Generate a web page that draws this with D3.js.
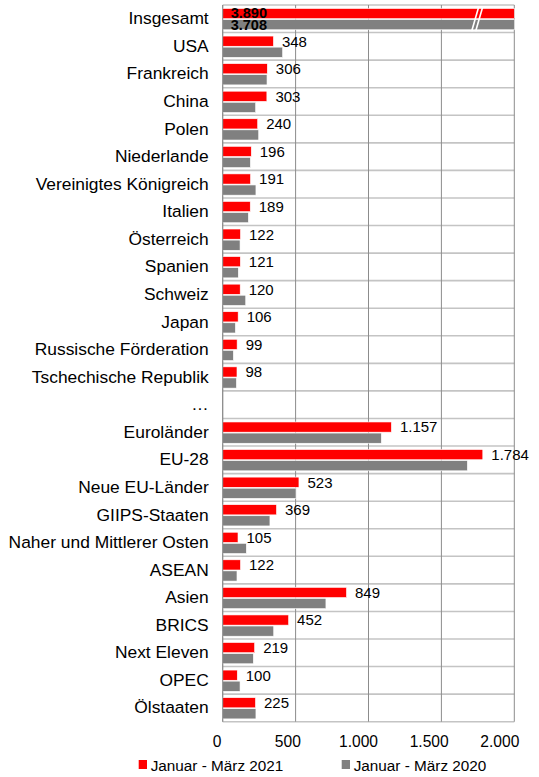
<!DOCTYPE html>
<html>
<head>
<meta charset="utf-8">
<script src="https://cdn.jsdelivr.net/npm/d3@7"></script>
<style>
  html, body { margin: 0; padding: 0; background: #fff; }
  svg { display: block; font-family: "Liberation Sans", Arial, sans-serif; }
</style>
</head>
<body>
<svg id="chart" width="539" height="777"></svg>
<script>
const categories = ["Insgesamt", "USA", "Frankreich", "China", "Polen", "Niederlande",
  "Vereinigtes Königreich", "Italien", "Österreich", "Spanien", "Schweiz", "Japan",
  "Russische Förderation", "Tschechische Republik", "…", "Euroländer", "EU-28",
  "Neue EU-Länder", "GIIPS-Staaten", "Naher und Mittlerer Osten", "ASEAN", "Asien",
  "BRICS", "Next Eleven", "OPEC", "Ölstaaten"];
const values2021 = [3890, 348, 306, 303, 240, 196, 191, 189, 122, 121, 120, 106, 99, 98,
  null, 1157, 1784, 523, 369, 105, 122, 849, 452, 219, 100, 225];
const values2020 = [3708, 411, 304, 226, 247, 190, 228, 176, 119, 107, 158, 87, 73, 94,
  null, 1088, 1678, 503, 324, 162, 98, 708, 350, 210, 119, 228];
const seriesNames = ["Januar - März 2021", "Januar - März 2020"];
const tickValues = [0, 500, 1000, 1500, 2000];
const tickLabels = ["0", "500", "1.000", "1.500", "2.000"];
const axisMax = 2000;
const breakValue = 1735;

(function () {
const colors = ["#ff0000", "#808080"];
const fmt = v => d3.format(",")(v).replace(/,/g, ".");

const svg = d3.select("#chart");
const pLeft = 222.7, pRight = 514.3, pTop = 5, pBottom = 721.7;

const x = d3.scaleLinear().domain([0, axisMax]).range([pLeft, pRight]).clamp(true);
const y = d3.scaleBand().domain(categories).range([pTop, pBottom]).padding(0);
const inner = d3.scaleBand().domain([0, 1]).range([3.5, y.bandwidth() - 2.8]).paddingInner(0.08);

// horizontal grid lines (band separators)
const hLines = categories.map(c => y(c)).concat([pBottom]);
svg.append("g").selectAll("line").data(hLines).join("line")
  .attr("x1", pLeft).attr("x2", pRight)
  .attr("y1", d => d).attr("y2", d => d)
  .attr("stroke", "#c4c4c4").attr("stroke-width", 1.6);

// vertical grid lines
svg.append("g").selectAll("line").data(tickValues).join("line")
  .attr("x1", d => x(d)).attr("x2", d => x(d))
  .attr("y1", pTop).attr("y2", pBottom)
  .attr("stroke", "#8c8c8c").attr("stroke-width", 1);

// bars
const rows = categories.map((c, i) => ({ c, i, v: [values2021[i], values2020[i]] }));
const barG = svg.append("g");
rows.forEach(r => {
  r.v.forEach((v, s) => {
    if (v == null) return;
    barG.append("rect")
      .attr("x", x(0))
      .attr("y", y(r.c) + inner(s))
      .attr("width", x(v) - x(0))
      .attr("height", inner.bandwidth())
      .attr("fill", colors[s])
      .attr("stroke", "#ffffff").attr("stroke-width", 0.6);
  });
});

// break marks for values beyond axis
rows.filter(r => r.v[0] > axisMax || r.v[1] > axisMax).forEach(r => {
  const y0 = y(r.c) + inner(0) - 1.5;
  const y1 = y(r.c) + inner(1) + inner.bandwidth() + 1.5;
  [0, 4].forEach(off => {
    barG.append("line")
      .attr("x1", x(breakValue) + off + 3).attr("x2", x(breakValue) + off - 4)
      .attr("y1", y0).attr("y2", y1)
      .attr("stroke", "#ffffff").attr("stroke-width", 1.6);
  });
});

// value labels
const lab = svg.append("g").attr("font-size", 15).attr("fill", "#000");
rows.forEach(r => {
  if (r.v[0] == null) return;
  if (r.v[0] > axisMax) {
    r.v.forEach((v, s) => {
      lab.append("text")
        .attr("x", x(0) + 8)
        .attr("y", y(r.c) + inner(s) + inner.bandwidth() / 2 + (s === 0 ? -0.4 : 0.6))
        .attr("dy", "0.36em")
        .attr("font-weight", "bold")
        .attr("font-size", 14.5)
        .text(fmt(v));
    });
  } else {
    lab.append("text")
      .attr("x", x(r.v[0]) + 8.5)
      .attr("y", y(r.c) + inner(0) + inner.bandwidth() / 2)
      .attr("dy", "0.36em")
      .text(fmt(r.v[0]));
  }
});

// category axis labels
const yAxis = d3.axisLeft(y).tickSize(0).tickPadding(14);
const yg = svg.append("g").attr("transform", `translate(${pLeft},0)`).call(yAxis);
yg.select(".domain").remove();
yg.selectAll("text").attr("font-size", 17.4).attr("fill", "#000")
  .attr("font-family", "'Liberation Sans', Arial, sans-serif");

// x axis tick labels
const xLab = d3.scaleLinear().domain([0, axisMax]).range([216.7, 499.3]);
const xAxis = d3.axisBottom(xLab).tickValues(tickValues).tickSize(0).tickPadding(0)
  .tickFormat((d, i) => tickLabels[i]);
const xg = svg.append("g").attr("transform", `translate(0,${pBottom + 14})`).call(xAxis);
xg.select(".domain").remove();
xg.selectAll("text").attr("font-size", 15.6).attr("fill", "#000")
  .attr("font-family", "'Liberation Sans', Arial, sans-serif");

// left axis line
svg.append("line").attr("x1", pLeft).attr("x2", pLeft).attr("y1", pTop).attr("y2", pBottom)
  .attr("stroke", "#8c8c8c").attr("stroke-width", 1);

// legend
const legendX = [138.7, 341.7];
const lg = svg.append("g");
seriesNames.forEach((n, i) => {
  lg.append("rect").attr("x", legendX[i]).attr("y", 760).attr("width", 8.3).attr("height", 9)
    .attr("fill", colors[i]);
  lg.append("text").attr("x", legendX[i] + 12).attr("y", 770.5)
    .attr("font-size", 15.3).attr("fill", "#000").text(n);
});
})();
</script>
</body>
</html>
